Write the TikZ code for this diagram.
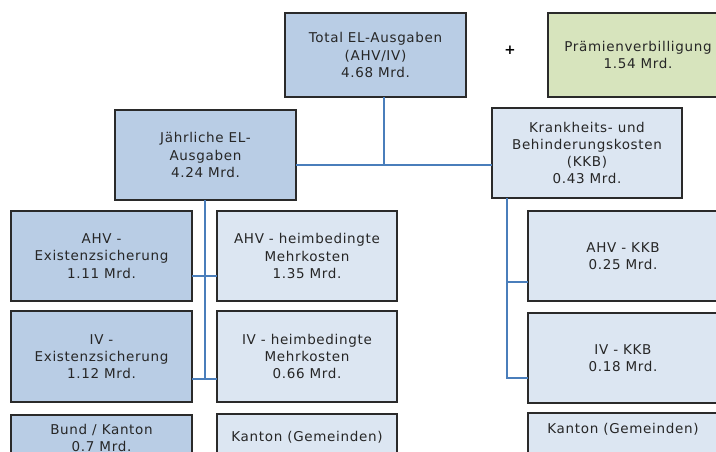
\documentclass[tikz,border=0pt]{standalone}
\usepackage{fontspec}
\setmainfont{DejaVu Sans}[LetterSpace=5]
\usetikzlibrary{positioning}
\usepackage{xcolor}
\definecolor{eldark}{HTML}{B9CDE5}
\definecolor{ellight}{HTML}{DCE6F2}
\definecolor{elgreen}{HTML}{D7E4BD}
\definecolor{elline}{HTML}{4A7EBB}
\definecolor{elborder}{HTML}{2A2A2A}

\begin{document}
\begin{tikzpicture}[x=1pt, y=-1pt, line width=1.1pt,
    elbox/.style={rectangle, draw=elborder, inner sep=0pt, outer sep=0pt, align=center,
        anchor=north west, text=black!85, font=\fontsize{13.5}{17.3}\selectfont},
    dunkel/.style={elbox, fill=eldark, minimum width=181pt, minimum height=90pt},
    hell/.style={elbox, fill=ellight, minimum width=180pt, minimum height=90pt},
    link/.style={draw=elline, line width=1.2pt}]
    \path[use as bounding box, clip] (0,0) rectangle (716,452);

    \node[dunkel, minimum height=84pt] (total) at (285,13) {Total EL-Ausgaben\\(AHV/IV)\\4.68 Mrd.};
    \node[font=\fontsize{13.5}{16}\selectfont\bfseries] (plus) at (510,50) {+};
    \node[elbox, fill=elgreen, minimum width=180pt, minimum height=84pt] (pv) at (548,13) {Prämienverbilligung\\1.54 Mrd.};

    \node[dunkel] (jahr) at (115,110) {Jährliche EL-\\Ausgaben\\4.24 Mrd.};
    \node[hell, minimum width=190pt] (kkb) at (492,108) {Krankheits- und\\Behinderungskosten\\(KKB)\\0.43 Mrd.};

    % linke Seite
    \node[dunkel] (ahvE) at (11,211) {AHV -\\Existenzsicherung\\1.11 Mrd.};
    \node[hell, right=25pt of ahvE] (ahvH) {AHV - heimbedingte\\Mehrkosten\\1.35 Mrd.};
    \node[dunkel, below=10pt of ahvE, minimum height=91pt] (ivE) {IV -\\Existenzsicherung\\1.12 Mrd.};
    \node[hell, right=25pt of ivE, minimum height=91pt] (ivH) {IV - heimbedingte\\Mehrkosten\\0.66 Mrd.};
    \node[dunkel, below=13pt of ivE, minimum height=46pt] (bund) {Bund / Kanton\\0.7 Mrd.};
    \node[hell, minimum height=46pt] (kantL) at (217,414) {Kanton (Gemeinden)};

    % rechte Seite
    \node[hell, minimum width=190pt] (ahvK) at (528,211) {AHV - KKB\\0.25 Mrd.};
    \node[hell, minimum width=190pt] (ivK) at (528,313) {IV - KKB\\0.18 Mrd.};
    \node[hell, minimum width=190pt, minimum height=0pt, text height=20pt, text depth=40pt] (kantR) at (528,413) {Kanton (Gemeinden)};

    \coordinate (mitte) at (384,165);
    \coordinate (lt1) at (205,276);
    \coordinate (lt2) at (205,379);
    \coordinate (rt1) at (507,282);
    \coordinate (rt2) at (507,378);

    \draw[link] (total.south -| mitte) -- (mitte);
    \draw[link] (jahr.east |- mitte) -- (kkb.west |- mitte);
    \draw[link] (jahr.south -| lt2) -- (lt2);
    \draw[link] (ahvE.east |- lt1) -- (ahvH.west |- lt1);
    \draw[link] (ivE.east |- lt2) -- (ivH.west |- lt2);
    \draw[link] (kkb.south -| rt2) -- (rt2) -- (ivK.west |- rt2);
    \draw[link] (rt1) -- (ahvK.west |- rt1);
\end{tikzpicture}
\end{document}
